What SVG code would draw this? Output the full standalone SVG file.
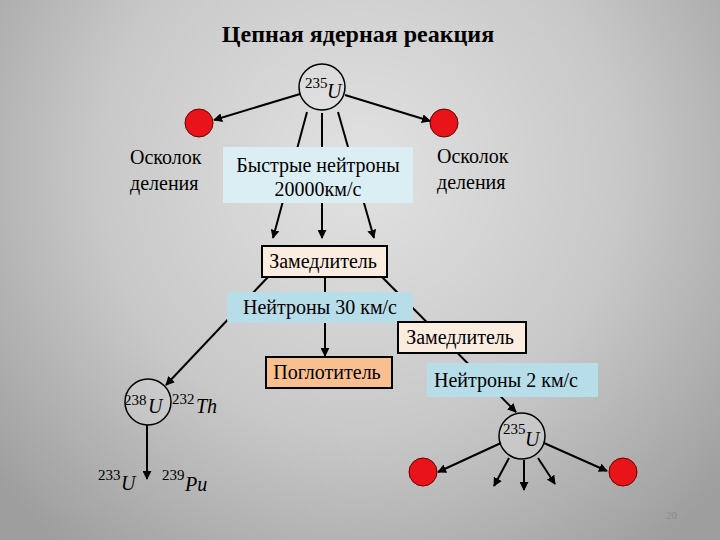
<svg xmlns="http://www.w3.org/2000/svg" width="720" height="540" viewBox="0 0 720 540" font-family="'Liberation Serif', 'DejaVu Serif', serif">
<defs>
<radialGradient id="bg" cx="360" cy="170" r="480" gradientUnits="userSpaceOnUse">
<stop offset="0" stop-color="#e2e2e2"/>
<stop offset="0.55" stop-color="#c8c8c8"/>
<stop offset="1" stop-color="#9e9e9e"/>
</radialGradient>
<marker id="ah" viewBox="0 0 10 10" refX="9" refY="5" markerWidth="9" markerHeight="9" markerUnits="userSpaceOnUse" orient="auto">
<path d="M0,0 L10,5 L0,10 z" fill="#000"/>
</marker>
<style>
text{font-family:'Liberation Serif','DejaVu Serif',serif;fill:#000}
.t{font-size:20px}
.b{font-size:20px}
.sup{font-size:15px}
.it{font-style:italic;font-size:20px}
.ln{stroke:#000;stroke-width:2;fill:none}
.ar{stroke:#000;stroke-width:2;fill:none;marker-end:url(#ah)}
.nuc{fill:#f0f0f0;fill-opacity:0.2;stroke:#000;stroke-width:1.5}
.frag{fill:#e8141a;stroke:#600;stroke-width:1}
.blue1{fill:#daeef3}
.blue2{fill:#b7dde8}
.peach{fill:#fbece0;stroke:#000;stroke-width:2}
.orange{fill:#fabf8f;stroke:#000;stroke-width:2}
</style>
</defs>
<rect width="720" height="540" fill="url(#bg)"/>
<text x="358" y="42" text-anchor="middle" font-weight="bold" font-size="24">Цепная ядерная реакция</text>

<g id="connectors">
<line class="ar" x1="300" y1="94" x2="214" y2="120"/>
<line class="ar" x1="345" y1="95" x2="430" y2="121"/>
<line class="ar" x1="307" y1="112" x2="273" y2="238"/>
<line class="ar" x1="322" y1="113" x2="322" y2="238"/>
<line class="ar" x1="338" y1="112" x2="374" y2="238"/>
<line class="ar" x1="268" y1="277" x2="166" y2="385"/>
<line class="ar" x1="325" y1="277" x2="325" y2="356"/>
<line class="ar" x1="382" y1="277" x2="516" y2="412"/>
<line class="ar" x1="501" y1="443" x2="438" y2="472"/>
<line class="ar" x1="544" y1="443" x2="607" y2="471"/>
<line class="ar" x1="509" y1="458" x2="494" y2="486"/>
<line class="ar" x1="524" y1="460" x2="524" y2="490"/>
<line class="ar" x1="538" y1="458" x2="555" y2="484"/>
<line class="ar" x1="147" y1="425" x2="147" y2="479"/>
</g>

<g id="u235-top">
<circle class="nuc" cx="322" cy="87" r="23"/>
<text x="305" y="88" class="sup">235</text>
<text x="327" y="98" class="it">U</text>
</g>
<g id="frag-left"><circle class="frag" cx="199" cy="123" r="14"/></g>
<g id="frag-right"><circle class="frag" cx="444" cy="123" r="14"/></g>
<g id="label-left">
<text x="130" y="164" class="t">Осколок</text>
<text x="130" y="190" class="t">деления</text>
</g>
<g id="label-right">
<text x="437" y="163" class="t">Осколок</text>
<text x="437" y="189" class="t">деления</text>
</g>
<g id="fast">
<rect class="blue1" x="223" y="147" width="190" height="56"/>
<text x="318" y="172" text-anchor="middle" class="t">Быстрые нейтроны</text>
<text x="318" y="196" text-anchor="middle" class="t">20000км/с</text>
</g>
<g id="moder1">
<rect class="peach" x="262" y="246" width="125" height="31"/>
<text x="323" y="268" text-anchor="middle" class="b">Замедлитель</text>
</g>
<g id="n30">
<rect class="blue2" x="227" y="292" width="186" height="31" rx="4"/>
<text x="320" y="314" text-anchor="middle" class="b">Нейтроны 30 км/с</text>
</g>
<g id="absorber">
<rect class="orange" x="266" y="357" width="126" height="31"/>
<text x="327" y="379" text-anchor="middle" class="b">Поглотитель</text>
</g>
<g id="moder2">
<rect class="peach" x="398" y="322" width="128" height="31"/>
<text x="460" y="344" text-anchor="middle" class="b">Замедлитель</text>
</g>
<g id="n2">
<rect class="blue2" x="427" y="363" width="171" height="34"/>
<text x="506" y="387" text-anchor="middle" class="b">Нейтроны 2 км/с</text>
</g>
<g id="u238">
<circle class="nuc" cx="148" cy="402" r="23"/>
<text x="124" y="405" class="sup">238</text>
<text x="148" y="413" class="it">U</text>
</g>
<g id="th232">
<text x="172" y="404" class="sup">232</text>
<text x="196" y="413" class="it">Th</text>
</g>
<g id="u233">
<text x="98" y="480" class="sup">233</text>
<text x="121" y="490" class="it">U</text>
</g>
<g id="pu239">
<text x="162" y="480" class="sup">239</text>
<text x="185" y="491" class="it">Pu</text>
</g>
<g id="u235-bottom">
<circle class="nuc" cx="522" cy="436" r="23"/>
<text x="503" y="434" class="sup">235</text>
<text x="525" y="446" class="it">U</text>
</g>
<g id="frag-bl"><circle class="frag" cx="423" cy="472" r="14"/></g>
<g id="frag-br"><circle class="frag" cx="623" cy="472" r="14"/></g>
<text x="666" y="519" font-size="11" style="fill:#8a8a8a">20</text>
</svg>
